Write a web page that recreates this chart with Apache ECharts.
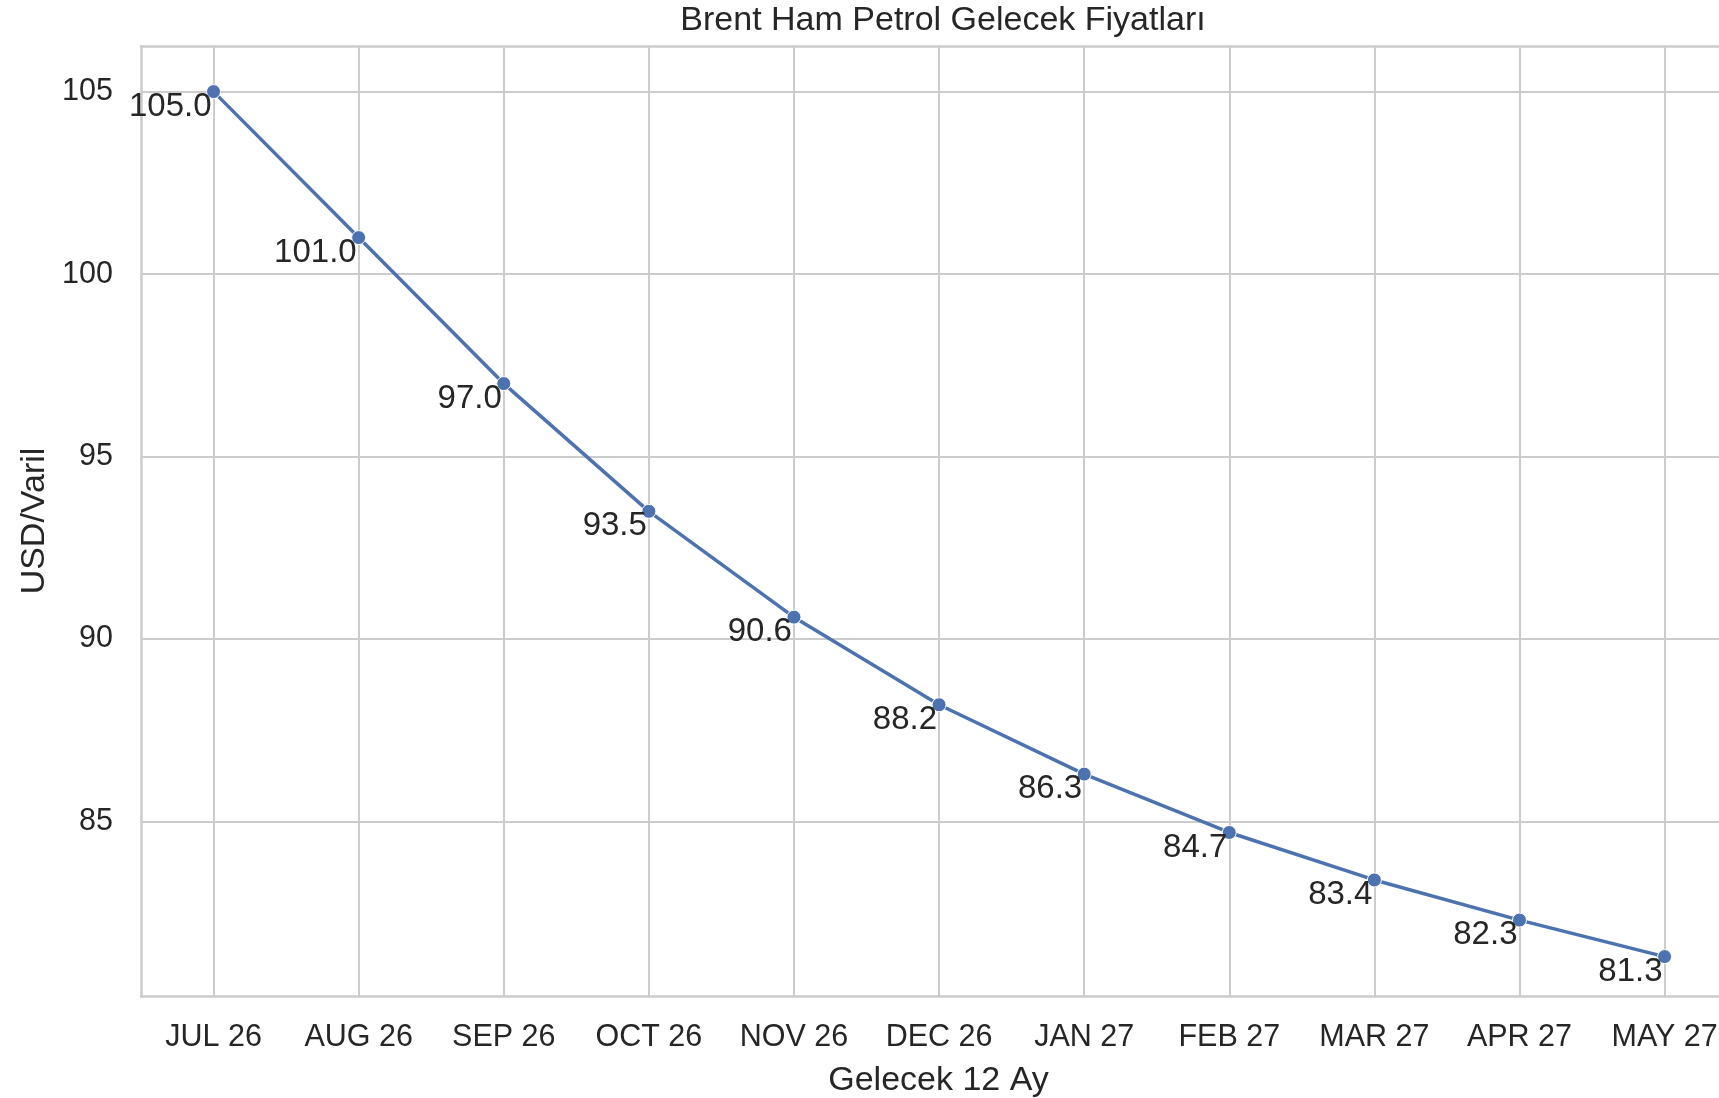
<!DOCTYPE html>
<html>
<head>
<meta charset="utf-8">
<script src="https://cdn.jsdelivr.net/npm/echarts@6/dist/echarts.min.js"></script>
<style>
  html, body { margin: 0; padding: 0; background: #ffffff; }
  #chart { width: 1719px; height: 1098px; }
</style>
</head>
<body>
<div id="chart"></div>
<script>
// Brent futures curve for the next 12 months
const months = ['JUL 26', 'AUG 26', 'SEP 26', 'OCT 26', 'NOV 26', 'DEC 26',
                'JAN 27', 'FEB 27', 'MAR 27', 'APR 27', 'MAY 27'];
const prices = [105.0, 101.0, 97.0, 93.5, 90.6, 88.2, 86.3, 84.7, 83.4, 82.3, 81.3];
const yTicks = [85, 90, 95, 100, 105];

const FONT = '"Liberation Sans", Arial, sans-serif';
const TEXT = '#262626';
const GRID = '#cccccc';
const BLUE = '#4c72b0';

// axis extents: half a month of padding on the left, the right side runs off the canvas
const xMin = -0.5;
const xMax = 10.375;
const yMin = 80.22;
const yMax = 106.25;
const xIdx = months.map((_, i) => i);

const spine = { show: true, onZero: false, lineStyle: { color: GRID, width: 2.5 } };

const chart = echarts.init(document.getElementById('chart'), null, { renderer: 'canvas' });
chart.setOption({
  backgroundColor: '#ffffff',
  animation: false,
  title: {
    text: 'Brent Ham Petrol Gelecek Fiyatları',
    left: 938,
    top: -1,
    textAlign: 'center',
    textStyle: { fontFamily: FONT, fontSize: 34, fontWeight: 'normal', color: TEXT }
  },
  grid: { left: 141, top: 46, right: 0, height: 950, show: false, outerBoundsMode: 'none', containLabel: false },
  xAxis: [{
    type: 'value',
    min: xMin, max: xMax,
    name: 'Gelecek 12 Ay',
    nameLocation: 'middle',
    nameGap: 68,
    nameTextStyle: { fontFamily: FONT, fontSize: 34, color: TEXT, padding: [0, 0, 0, 17] },
    axisLine: spine,
    axisTick: { show: false, customValues: xIdx },
    axisLabel: {
      customValues: xIdx,
      margin: 26,
      fontFamily: FONT, fontSize: 30.5, color: TEXT,
      formatter: v => months[Math.round(v)]
    },
    splitLine: { show: true, lineStyle: { color: GRID, width: 2 } }
  }, {
    // top spine of the plot frame
    type: 'value',
    position: 'top',
    min: xMin, max: xMax,
    axisLine: spine,
    axisTick: { show: false },
    axisLabel: { show: false },
    splitLine: { show: false }
  }],
  yAxis: {
    type: 'value',
    min: yMin, max: yMax,
    name: 'USD/Varil',
    nameLocation: 'middle',
    nameGap: 89,
    nameTextStyle: { fontFamily: FONT, fontSize: 34, color: TEXT },
    axisLine: spine,
    axisTick: { show: false, customValues: yTicks },
    axisLabel: {
      customValues: yTicks,
      margin: 28,
      fontFamily: FONT, fontSize: 30.5, color: TEXT
    },
    splitLine: { show: true, lineStyle: { color: GRID, width: 2 } }
  },
  series: [{
    type: 'line',
    xAxisIndex: 0,
    data: prices.map((p, i) => [i, p]),
    lineStyle: { color: BLUE, width: 3.5 },
    symbol: 'circle',
    symbolSize: 14,
    itemStyle: { color: BLUE, borderColor: '#ffffff', borderWidth: 1 },
    label: {
      show: true,
      position: 'left',
      distance: 0,
      offset: [5.5, 15],
      fontFamily: FONT, fontSize: 33, color: TEXT,
      formatter: p => p.value[1].toFixed(1)
    },
    z: 3
  }]
});
</script>
</body>
</html>
